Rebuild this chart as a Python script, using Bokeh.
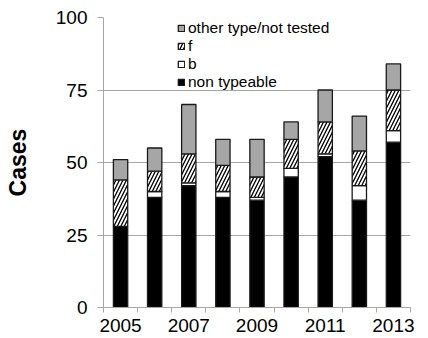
from bokeh.plotting import figure
from bokeh.models import Range1d, FixedTicker, Legend, LegendItem
from bokeh.embed import file_html
from bokeh.resources import INLINE

years = [2005, 2006, 2007, 2008, 2009, 2010, 2011, 2012, 2013]
non_typeable = [28, 38, 42, 38, 37, 45, 52, 37, 57]
type_b = [0, 2, 1, 2, 1, 3, 1, 5, 4]
type_f = [16, 7, 10, 9, 7, 10, 11, 12, 14]
other = [7, 8, 17, 9, 13, 6, 11, 12, 9]
y_ticks = [0, 25, 50, 75, 100]
x_label_years = [2005, 2007, 2009, 2011, 2013]

FONT = "Liberation Sans"
GRID = "#a6a6a6"
OUT = "#1a1a1a"

p = figure(width=428, height=338, output_backend="svg", toolbar_location=None,
           x_range=Range1d(2004.5, 2013.5), y_range=Range1d(0, 100),
           min_border_left=103, min_border_right=18, min_border_top=17,
           min_border_bottom=31)
p.outline_line_color = None
p.background_fill_color = "white"

series = [
    ("non typeable", non_typeable, dict(fill_color="black")),
    ("b", type_b, dict(fill_color="white")),
    ("f", type_f, dict(fill_color="white", hatch_pattern="/", hatch_color="black",
                       hatch_scale=7, hatch_weight=1.3)),
    ("other type/not tested", other, dict(fill_color="#a6a6a6")),
]

bottom = [0] * len(years)
renderers = []
for name, vals, style in series:
    top = [b + v for b, v in zip(bottom, vals)]
    r = p.vbar(x=years, bottom=bottom, top=top, width=0.42,
               line_color=OUT, line_width=1.3, **style)
    renderers.append((name, r))
    bottom = top

legend = Legend(items=[LegendItem(label=n, renderers=[r]) for n, r in reversed(renderers)],
                location=(74, 216))
legend.label_text_font = FONT
legend.label_text_font_size = "15.5px"
legend.label_text_color = "black"
legend.glyph_width = 8
legend.glyph_height = 8
legend.label_height = 14
legend.label_standoff = 3
legend.spacing = -5
legend.padding = 0
legend.margin = 0
legend.border_line_color = None
legend.background_fill_alpha = 0
legend.label_text_line_height = 1.0
p.add_layout(legend)

# axes
p.yaxis.ticker = FixedTicker(ticks=y_ticks)
p.yaxis.axis_label = "Cases"
p.yaxis.axis_label_text_font = FONT
p.yaxis.axis_label_text_font_style = "bold"
p.yaxis.axis_label_text_font_size = "23px"
p.yaxis.axis_label_text_color = "black"
p.yaxis.axis_label_standoff = 22
p.yaxis.major_label_text_font = FONT
p.yaxis.major_label_text_font_size = "19px"
p.yaxis.major_label_text_color = "black"
p.yaxis.major_label_standoff = 10
p.yaxis.major_tick_out = 6
p.yaxis.major_tick_in = 0
p.yaxis.minor_tick_line_color = None
p.yaxis.axis_line_color = GRID
p.yaxis.major_tick_line_color = GRID

p.xaxis.ticker = FixedTicker(ticks=x_label_years,
                             minor_ticks=[y - 0.5 for y in years] + [years[-1] + 0.5])
p.xaxis.major_tick_line_color = None
p.xaxis.minor_tick_out = 5
p.xaxis.minor_tick_in = 0
p.xaxis.minor_tick_line_color = GRID
p.xaxis.axis_line_color = GRID
p.xaxis.major_label_text_font = FONT
p.xaxis.major_label_text_font_size = "19px"
p.xaxis.major_label_text_color = "black"
p.xaxis.major_label_standoff = 5

p.xgrid.grid_line_color = None
p.ygrid.ticker = FixedTicker(ticks=y_ticks)
p.ygrid.grid_line_color = GRID
p.ygrid.grid_line_width = 1

open("out.html", "w").write(file_html(p, INLINE))
